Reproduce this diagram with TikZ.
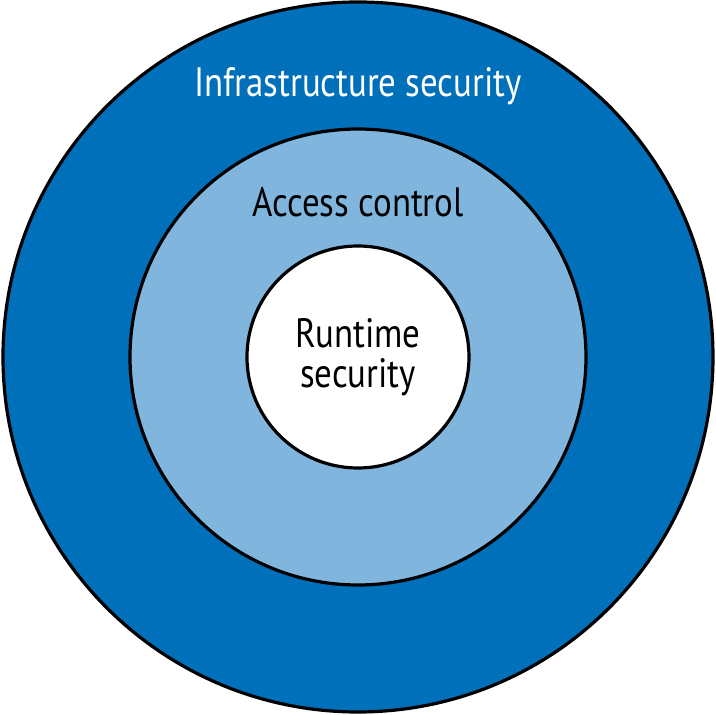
\documentclass[tikz,border=0pt]{standalone}
\usepackage{fontspec}
\setmainfont[FakeStretch=0.85]{PT Sans}
\usepackage{tikz}
\usetikzlibrary{positioning}
\definecolor{ringdark}{RGB}{0,112,186}
\definecolor{ringlight}{RGB}{128,182,221}

\begin{document}
\begin{tikzpicture}[x=1pt,y=1pt, every node/.style={font=\fontsize{41}{40}\selectfont},
  ring/.style={circle,draw=black,line width=3.2pt,inner sep=0pt}]
  \useasboundingbox (-358,-358) rectangle (358,357);
  \node[ring,fill=ringdark,minimum size=710pt] (outer) at (0,0) {};
  \node[ring,fill=ringlight,minimum size=456pt] (middle) at (0,0) {};
  \node[ring,fill=white,minimum size=222pt] (inner) at (0,0) {};
  \node[anchor=base,text=white] (infra) at (0,260) {Infrastructure security};
  \node[anchor=base] (access) at (0,140) {Access control};
  \node[anchor=base,align=center] (runtime) at (0,-31) {Runtime\\security};
\end{tikzpicture}
\end{document}
